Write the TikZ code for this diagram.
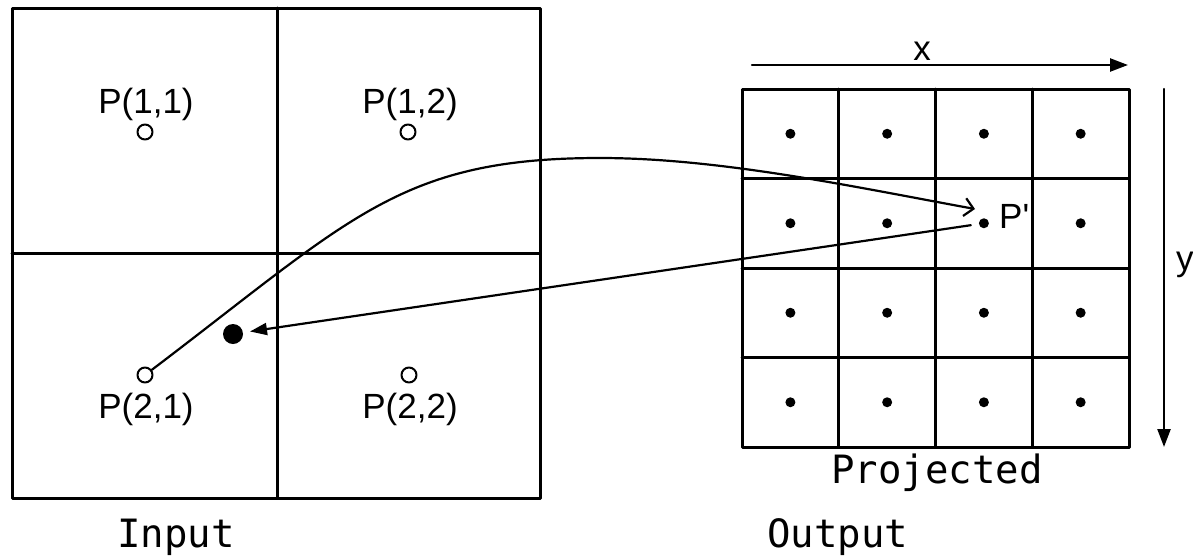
\documentclass[tikz,border=0pt]{standalone}
\usepackage{fontspec}
\setmainfont{Liberation Sans}
\newfontfamily\capfont{DejaVu Sans Mono}
\usetikzlibrary{arrows.meta}

\begin{document}
\begin{tikzpicture}[
  x=1pt, y=-1pt,
  line cap=round,
  line join=round,
  cellline/.style={line width=3pt},
  hollow/.style={circle, draw, line width=2pt, fill=white, minimum size=15pt, inner sep=0pt},
  gridpt/.style={circle, fill=black, minimum size=10pt, inner sep=0pt},
  plabel/.style={font=\fontsize{35}{38}\selectfont, anchor=base, inner sep=0pt},
  caption/.style={font=\capfont\fontsize{39}{42}\selectfont, anchor=base west, inner sep=0pt},
  axis/.style={-{Triangle[length=18pt,width=13pt]}, line width=2.4pt},
  link/.style={line width=2.2pt}
]
  \useasboundingbox (0,0) rectangle (1193,555);

  % Input image, 2x2 pixels
  \draw[cellline] (12,8) rectangle (540,498);
  \draw[cellline] (277,8) -- (277,498);
  \draw[cellline] (12,253) -- (540,253);

  \node[hollow] (p11) at (145,132) {};
  \node[hollow] (p12) at (408,132) {};
  \node[hollow] (p21) at (145,375) {};
  \node[hollow] (p22) at (409,375) {};

  \node[plabel] (l11) at (146,113) {P(1,1)};
  \node[plabel] (l12) at (410,113) {P(1,2)};
  \node[plabel] (l21) at (146,418) {P(2,1)};
  \node[plabel] (l22) at (410,418) {P(2,2)};

  % Back-projected sample point
  \node[circle, fill=black, minimum size=20pt, inner sep=0pt] (q) at (233,334) {};

  % Projected output, 4x4 grid
  \draw[cellline] (742,89) rectangle (1129,447);
  \foreach \k in {1,2,3} {
    \draw[cellline] ({742+96.75*\k},89) -- ({742+96.75*\k},447);
    \draw[cellline] (742,{89+89.5*\k}) -- (1129,{89+89.5*\k});
  }
  \foreach \i in {0,...,3}
    \foreach \j in {0,...,3}
      \node[gridpt] (d\i\j) at ({790.4+96.75*\i},{133.75+89.5*\j}) {};

  \node[plabel, anchor=base west] (pl) at (999,228) {P\textquotesingle};

  % Axes
  \coordinate (xs) at (752,65);
  \coordinate (xe) at (1128,65);
  \coordinate (ys) at (1164,89);
  \coordinate (ye) at (1164,447);
  \draw[axis] (xs) -- (xe);
  \draw[axis] (ys) -- (ye);
  \node[plabel] (xl) at (922,60) {x};
  \node[plabel, anchor=base west] (yl) at (1176,270) {y};

  % Forward mapping and back projection
  \coordinate (top) at (600,158);
  \coordinate (hit) at (975,209);
  \draw[link, -{Straight Barb[length=9pt,width=18pt]}]
    (p21) .. controls (352,218) and (400,158) .. (top)
          .. controls (720,158) and (855,187) .. (hit);
  \draw[link, -{Triangle[length=17pt,width=12pt]}, shorten <=8pt, shorten >=7pt]
    (d21) -- (q);

  % Captions
  \node[caption] (inp) at (117,547) {Input};
  \node[caption] (outp) at (767,547) {Output};
  \node[caption, anchor=base] (proj) at (937,483) {Projected};
\end{tikzpicture}
\end{document}
